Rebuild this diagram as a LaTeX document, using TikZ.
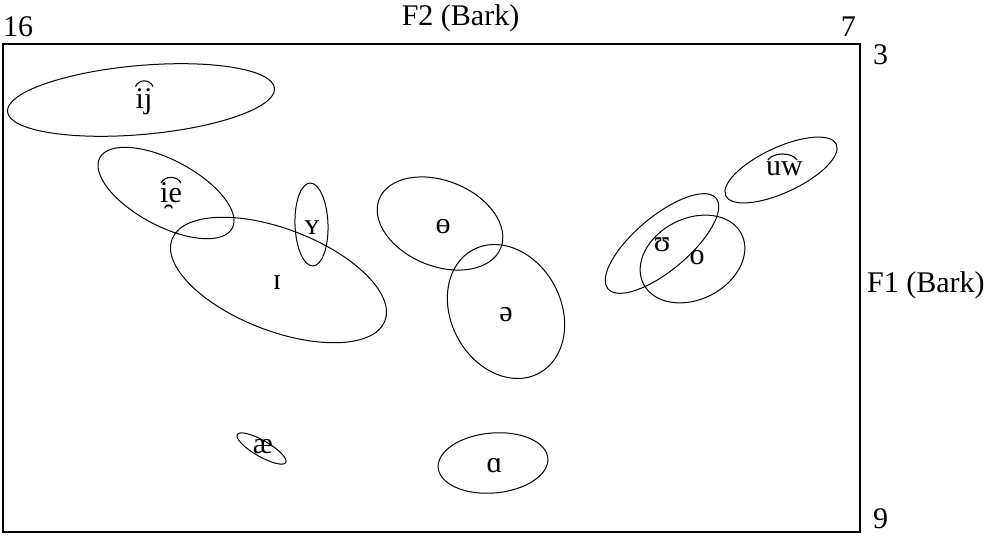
\documentclass[tikz,border=0pt]{standalone}
\usepackage{fontspec}
\setmainfont{Liberation Serif}
\begin{document}
\begin{tikzpicture}[x=1pt,y=-1pt,
  lbl/.style={font=\fontsize{30}{34}\selectfont, inner sep=0pt},
  axis/.style={font=\fontsize{30}{34}\selectfont, inner sep=0pt},
  vowel/.style={draw, line width=1pt},
  tiearc/.style={draw, line width=1.1pt},
  frame/.style={draw, line width=1.3pt}]
\useasboundingbox (0,0) rectangle (992,537);
\draw[frame] (3,44) rectangle (860,532);
% axis labels
\node[axis, anchor=base west] (t16) at (3,37) {16};
\node[axis, anchor=base east] (t7) at (856,37) {7};
\node[axis, anchor=base] (tf2) at (460.5,26) {F2 (Bark)};
\node[axis, anchor=base west] (t3) at (873,65) {3};
\node[axis, anchor=base west] (t9) at (873,528) {9};
\node[axis, anchor=base west] (tf1) at (867,292) {F1 (Bark)};
% ellipses
\draw[vowel, rotate around={5:(141,100)}] (141,100) ellipse [x radius=134, y radius=34.5];
\draw[vowel, rotate around={-28:(166,193)}] (166,193) ellipse [x radius=75, y radius=33];
\draw[vowel, rotate around={2:(311.5,224.5)}] (311.5,224.5) ellipse [x radius=16.5, y radius=41.5];
\draw[vowel, rotate around={-21:(278.5,280)}] (278.5,280) ellipse [x radius=114, y radius=51];
\draw[vowel, rotate around={-22:(440,223.5)}] (440,223.5) ellipse [x radius=65.5, y radius=42.7];
\draw[vowel, rotate around={28:(506,311.5)}] (506,311.5) ellipse [x radius=55, y radius=70];
\draw[vowel, rotate around={40:(662,243.5)}] (662,243.5) ellipse [x radius=70.5, y radius=27];
\draw[vowel, rotate around={27:(692.5,259)}] (692.5,259) ellipse [x radius=55, y radius=40.5];
\draw[vowel, rotate around={25:(781,170)}] (781,170) ellipse [x radius=61, y radius=22.6];
\draw[vowel, rotate around={-30:(261.5,448.5)}] (261.5,448.5) ellipse [x radius=28, y radius=8];
\draw[vowel, rotate around={5:(493,463)}] (493,463) ellipse [x radius=55, y radius=30];
% vowel labels
\node[lbl, anchor=base] (vij) at (144,109) {ij};
\node[lbl, anchor=base] (vie) at (171,203) {i̯e};
\node[lbl] (vY) at (312,228) {ʏ};
\node[lbl] (vI) at (277,283) {ɪ};
\node[lbl] (vth) at (443,227) {ɵ};
\node[lbl] (vsch) at (506,315) {ə};
\node[lbl] (vU) at (662,245) {ʊ};
\node[lbl] (vo) at (697,258) {o};
\node[lbl, anchor=base] (vuw) at (784.5,176) {uw};
\node[lbl] (vae) at (263,447) {æ};
\node[lbl] (va) at (494.5,466) {ɑ};
% tie bars
\draw[tiearc] (135.5,86.5) .. controls (139,79) and (149.5,79) .. (153,86.5);
\draw[tiearc] (161,183) .. controls (165,175.5) and (177,175.5) .. (181,183);
\draw[tiearc] (768,160) .. controls (773,152) and (792,152) .. (797,160);
\end{tikzpicture}
\end{document}
